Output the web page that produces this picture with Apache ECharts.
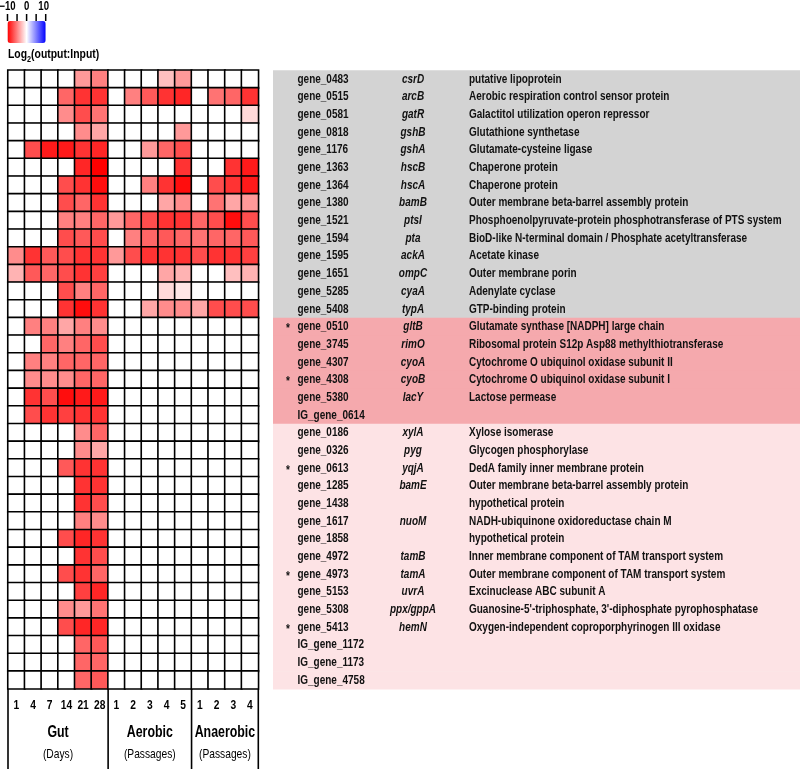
<!DOCTYPE html>
<html><head><meta charset="utf-8">
<script src="https://cdn.jsdelivr.net/npm/echarts@6/dist/echarts.min.js"></script>
<style>html,body{margin:0;padding:0;background:#fff}#c{width:800px;height:769px}</style>
</head><body><div id="c"></div><script>
// ---------------- data ----------------
const timepoints = ['1','4','7','14','21','28','1','2','3','4','5','1','2','3','4'];
const groupNames = ['Gut','Aerobic','Anaerobic'];
const groupSubtitles = ['(Days)','(Passages)','(Passages)'];
const groupSizes = [6,5,4];

const geneIds = ['gene_0483','gene_0515','gene_0581','gene_0818','gene_1176','gene_1363','gene_1364','gene_1380','gene_1521','gene_1594','gene_1595','gene_1651','gene_5285','gene_5408',
 'gene_0510','gene_3745','gene_4307','gene_4308','gene_5380','IG_gene_0614',
 'gene_0186','gene_0326','gene_0613','gene_1285','gene_1438','gene_1617','gene_1858','gene_4972','gene_4973','gene_5153','gene_5308','gene_5413','IG_gene_1172','IG_gene_1173','IG_gene_4758'];
const geneNames = ['csrD','arcB','gatR','gshB','gshA','hscB','hscA','bamB','ptsI','pta','ackA','ompC','cyaA','typA',
 'gltB','rimO','cyoA','cyoB','lacY','',
 'xylA','pyg','yqjA','bamE','','nuoM','','tamB','tamA','uvrA','ppx/gppA','hemN','','',''];
const descriptions = ['putative lipoprotein','Aerobic respiration control sensor protein','Galactitol utilization operon repressor','Glutathione synthetase','Glutamate-cysteine ligase','Chaperone protein','Chaperone protein','Outer membrane beta-barrel assembly protein','Phosphoenolpyruvate-protein phosphotransferase of PTS system','BioD-like N-terminal domain / Phosphate acetyltransferase','Acetate kinase','Outer membrane porin','Adenylate cyclase','GTP-binding protein',
 'Glutamate synthase [NADPH] large chain','Ribosomal protein S12p Asp88 methylthiotransferase','Cytochrome O ubiquinol oxidase subunit II','Cytochrome O ubiquinol oxidase subunit I','Lactose permease','',
 'Xylose isomerase','Glycogen phosphorylase','DedA family inner membrane protein','Outer membrane beta-barrel assembly protein','hypothetical protein','NADH-ubiquinone oxidoreductase chain M','hypothetical protein','Inner membrane component of TAM transport system','Outer membrane component of TAM transport system','Excinuclease ABC subunit A','Guanosine-5\'-triphosphate, 3\'-diphosphate pyrophosphatase','Oxygen-independent coproporphyrinogen III oxidase','','',''];
const starred = ['gene_0510','gene_4308','gene_0613','gene_4973','gene_5413'];
const sectionSizes = [14,6,15];
const sectionColors = ['#d3d3d3','#f5a9ad','#fde3e5'];

// log2(output:input), rows = genes, columns = timepoints
const logRatios = [
 [0,0,0,0,-4,-5,0,0,0,-2.5,-4,0,0,0,0],
 [0,0,0,-6,-8,-8,0,-5,-6.5,-8,-8.5,0,-5.5,-6,-8],
 [0,0,0,-4.5,-7,-5.5,0,0,0,0,0,0,0,0,-1.5],
 [0,0,0,0,-4.5,-3.5,0,0,0,0,-4,0,0,0,0],
 [0,-7,-9,-9,-8,-8.5,0,0,-4,-6,-7,0,0,0,0],
 [0,0,0,0,-8.5,-10,0,0,0,0,-8,0,0,-8,-9],
 [0,0,0,-7,-8,-9.5,0,0,-5,-8,-9.5,0,-7,-8,-9],
 [0,0,0,-7,-6,-8,0,0,0,-3.5,-4.5,0,-5.5,-3.5,-4],
 [0,0,0,-5,-5,-6,-4,-6,-7,-8,-8,-6,-7,-9.5,-7],
 [0,0,0,-7,-6.5,-7,0,-5,-6,-6.5,-6,-5.5,-6,-6,-6.5],
 [-4.5,-8,-6.5,-7,-8,-8,-4,-7,-8,-8,-8,-7,-8,-8,-7.5],
 [-3,-6.5,-6,-7,-8,-7.5,0,0,0,-3.5,-3,0,0,-2.5,-3],
 [0,0,0,-7,-5,-6,0,0,0,-1.5,-1,0,0,0,0],
 [0,0,0,-8,-9.5,-8,0,0,-3.5,-4.5,-4.5,-3.5,-7,-7,-7],
 [0,-5,-5,-3.5,-5,-4.5,0,0,0,0,0,0,0,0,0],
 [0,0,-6,-5,-6,-7,0,0,0,0,0,0,0,0,0],
 [0,-5,-5,-6,-6,-6,0,0,0,0,0,0,0,0,0],
 [0,-4.5,-4.5,-4.5,-6,-6,0,0,0,0,0,0,0,0,0],
 [0,-8,-7,-9.5,-9,-9,0,0,0,0,0,0,0,0,0],
 [0,-7,-8,-7.5,-8,-8,0,0,0,0,0,0,0,0,0],
 [0,0,0,0,-4.5,-6,0,0,0,0,0,0,0,0,0],
 [0,0,0,0,-4.5,-3.5,0,0,0,0,0,0,0,0,0],
 [0,0,0,-6.5,-8,-8,0,0,0,0,0,0,0,0,0],
 [0,0,0,0,-8,-8,0,0,0,0,0,0,0,0,0],
 [0,0,0,0,-8,-7,0,0,0,0,0,0,0,0,0],
 [0,0,0,0,-5,-4.5,0,0,0,0,0,0,0,0,0],
 [0,0,0,-7,-8.5,-8,0,0,0,0,0,0,0,0,0],
 [0,0,0,0,-8,-7,0,0,0,0,0,0,0,0,0],
 [0,0,0,-7,-8,-6,0,0,0,0,0,0,0,0,0],
 [0,0,0,0,-7.5,-8.5,0,0,0,0,0,0,0,0,0],
 [0,0,0,-4.5,-4,-5.5,0,0,0,0,0,0,0,0,0],
 [0,0,0,-7,-8.5,-8.5,0,0,0,0,0,0,0,0,0],
 [0,0,0,0,-6,-6.5,0,0,0,0,0,0,0,0,0],
 [0,0,0,0,-6,-6,0,0,0,0,0,0,0,0,0],
 [0,0,0,0,-6,-6.5,0,0,0,0,0,0,0,0,0]
];
const scaleTicks = [-10,-5,0,5,10];
const scaleTickLabels = ['\u221210','','0','','10'];

// ---------------- chart ----------------
const FONT = '"Liberation Sans", Arial, sans-serif';
const chart = echarts.init(document.getElementById('c'), null, {renderer:'canvas'});

const heatData = [];
logRatios.forEach((row, r) => row.forEach((v, c) => heatData.push([c, r, v])));

function sectionOf(i){ let acc=0; for(let s=0;s<sectionSizes.length;s++){acc+=sectionSizes[s]; if(i<acc) return s;} return sectionSizes.length-1; }
// condensed-looking text: a regular face squeezed horizontally
function narrowText(x, y, text, size, extra, squeeze){
  extra = extra || {};
  return {type:'text', x:x, y:y, scaleX:squeeze || 0.8, scaleY:1, silent:true,
    style:Object.assign({text:text, fontFamily:FONT, fontWeight:'bold', fontSize:size, fill:'#000', align:'center', verticalAlign:'middle'}, extra)};
}

const GRID_TOP = 70.2, GRID_BOTTOM = 80.2;

chart.setOption({
  animation:false,
  textStyle:{fontFamily:FONT},
  grid:[
    {left:8, top:GRID_TOP, width:250.3, bottom:GRID_BOTTOM},
    {left:273, top:GRID_TOP, right:0, bottom:GRID_BOTTOM},
    {left:7.5, top:21, width:38.2, height:22}
  ],
  xAxis:[
    {type:'category', gridIndex:0, data:timepoints,
     axisLine:{show:false}, axisTick:{show:false}, splitLine:{show:false}, axisLabel:{show:false}},
    {type:'value', gridIndex:1, min:0, max:1, show:false},
    {type:'value', gridIndex:2, position:'top', min:-10, max:10, interval:5, show:false}
  ],
  yAxis:[
    {type:'category', gridIndex:0, data:geneIds, inverse:true, show:false},
    {type:'category', gridIndex:1, data:geneIds, inverse:true, show:false},
    {type:'value', gridIndex:2, show:false, min:0, max:1}
  ],
  visualMap:{
    type:'continuous', seriesIndex:0, min:-10, max:10, orient:'horizontal',
    left:7.5, top:21, itemWidth:22, itemHeight:38.2, padding:0, calculable:false,
    text:null, showLabel:false, hoverLink:false,
    inRange:{color:['#ff0000','#ffffff','#0000ff']}
  },
  series:[
    {type:'heatmap', xAxisIndex:0, yAxisIndex:0, data:heatData,
     itemStyle:{borderColor:'#000', borderWidth:1.6}, emphasis:{disabled:true}},
    {type:'custom', xAxisIndex:1, yAxisIndex:1, silent:true,
     data: geneIds.map((g,i)=>[0,i]),
     renderItem(params, api){
       const i = api.value(1);
       const p = api.coord([0, i]);
       const h = api.size([0,1])[1];
       const cs = params.coordSys;
       const cy = p[1];
       const sq = 0.74;
       const ch = [
         {type:'rect', shape:{x:cs.x, y:cy-h/2, width:cs.width, height:h+0.7}, style:{fill:sectionColors[sectionOf(i)]}},
         narrowText(cs.x+24.5, cy, geneIds[i], 13.5, {align:'left', fill:'#111'}, sq),
         narrowText(cs.x+140, cy, geneNames[i], 13.5, {fontStyle:'italic', fill:'#111'}, sq),
         narrowText(cs.x+196, cy, descriptions[i], 13.5, {align:'left', fill:'#111'}, sq)
       ];
       if (starred.indexOf(geneIds[i]) >= 0) ch.push(narrowText(cs.x+15, cy+2, '*', 13.5, {fill:'#111'}, sq));
       return {type:'group', children:ch};
     }},
    {type:'scatter', xAxisIndex:2, yAxisIndex:2, data:[], silent:true}
  ]
});

// decorations located from the axis scales
const graphics = [];
const colPx = i => chart.convertToPixel({xAxisIndex:0}, i);
const bw = colPx(1) - colPx(0);
const gridBottomY = 769 - GRID_BOTTOM;
timepoints.forEach((t, i) => graphics.push(narrowText(colPx(i), gridBottomY + 16, t, 13.5, null, 0.76)));
let start = 0;
const edges = [colPx(0) - bw/2];
groupSizes.forEach((n, g) => {
  const left = colPx(start) - bw/2;
  const right = colPx(start + n - 1) + bw/2;
  edges.push(right);
  const cx = (left + right) / 2;
  graphics.push(narrowText(cx, gridBottomY + 44, groupNames[g], 16.5, null, 0.75));
  graphics.push(narrowText(cx, gridBottomY + 65.5, groupSubtitles[g], 13.5, {fontWeight:'normal'}, 0.76));
  start += n;
});
edges.forEach(ex => graphics.push({type:'line', silent:true, shape:{x1:ex, y1:gridBottomY, x2:ex, y2:769}, style:{stroke:'#000', lineWidth:1.6}}));

// colour-scale ticks and labels
const barTop = 21;
scaleTicks.forEach((v, k) => {
  const tx = chart.convertToPixel({xAxisIndex:2}, v);
  graphics.push({type:'line', silent:true, shape:{x1:tx, y1:barTop-7, x2:tx, y2:barTop}, style:{stroke:'#000', lineWidth:1.5}});
  if (scaleTickLabels[k]) graphics.push(narrowText(tx + (v === 10 ? -2 : v === -10 ? 0 : 0), 7, scaleTickLabels[k], 12, null, 0.8));
});
graphics.push({type:'text', x:8, y:53, scaleX:0.8, silent:true, style:{
  text:'{a|Log}{s|2}{a|(output:Input)}', fill:'#000', verticalAlign:'middle',
  rich:{a:{fontFamily:FONT, fontWeight:'bold', fontSize:13, lineHeight:16, verticalAlign:'bottom'},
        s:{fontFamily:FONT, fontWeight:'bold', fontSize:9, lineHeight:16, verticalAlign:'bottom', padding:[0,0,-3,0]}}}});
chart.setOption({graphic:graphics});
</script></body></html>
